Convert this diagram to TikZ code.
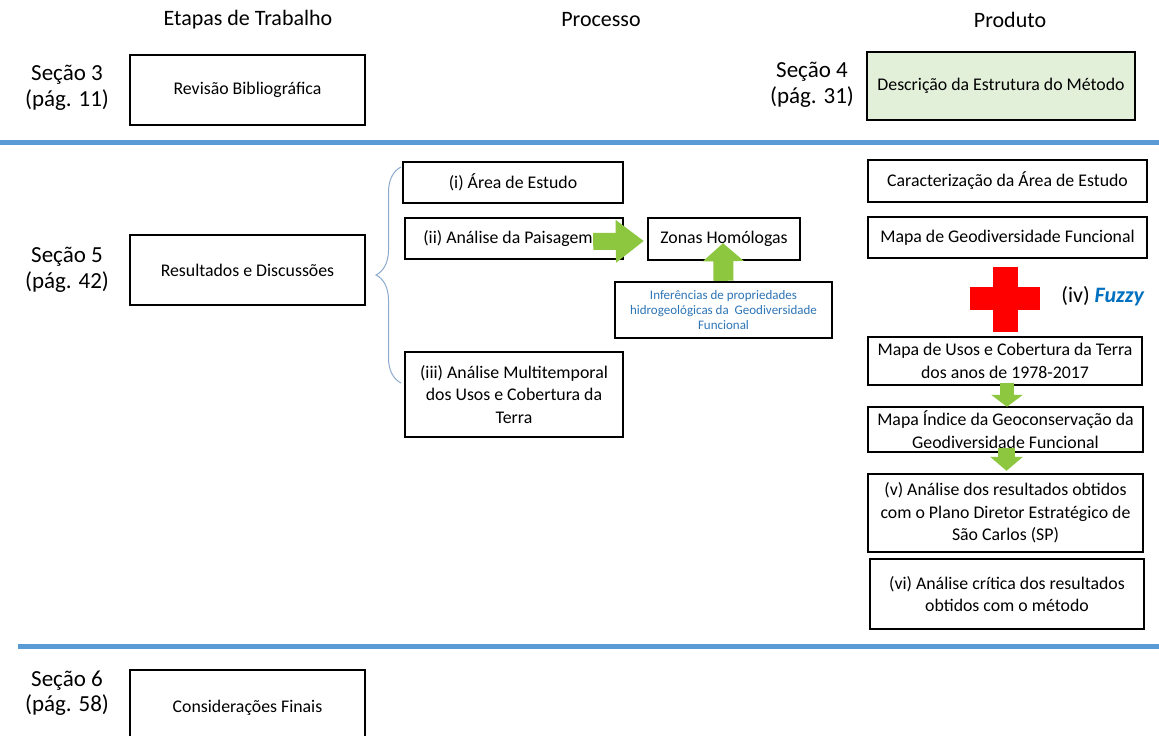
\documentclass[tikz,border=0pt]{standalone}
\usepackage{fontspec}
\setmainfont{Carlito}
\usetikzlibrary{arrows.meta,calc,decorations.pathreplacing}
\definecolor{sepblue}{RGB}{91,155,213}
\definecolor{arrgreen}{RGB}{141,198,63}
\definecolor{boxgreen}{RGB}{226,239,217}
\definecolor{txtblue}{RGB}{46,117,182}
\definecolor{fuzzyblue}{RGB}{0,112,192}
\definecolor{bracecol}{RGB}{140,170,205}
\tikzset{
  box/.style={draw=black, line width=2.4pt, align=center, inner sep=0pt,
    font=\fontsize{17.8}{22.5}\selectfont},
  sec/.style={align=center, inner sep=0pt, font=\fontsize{23}{25.5}\selectfont},
  head/.style={inner sep=0pt, font=\fontsize{22}{24}\selectfont},
  sepline/.style={sepblue, line width=5pt},
  garrow/.style={arrgreen, line width=#1},
}
\begin{document}
\begin{tikzpicture}[x=1pt,y=-1pt]
\useasboundingbox (0,0) rectangle (1159,736);
\clip (0,0) rectangle (1159,736);
\fill[white] (0,0) rectangle (1159,736);
% headers
\node[head] (h1) at (248,20) {Etapas de Trabalho};
\node[head] (h2) at (601,20) {Processo};
\node[head] (h3) at (1010,20) {Produto};
% section labels
\node[sec] (s3) at (67,88) {Seção 3\\(pág. 11)};
\node[sec] (s4) at (812,85) {Seção 4\\(pág. 31)};
\node[sec] (s5) at (67,270) {Seção 5\\(pág. 42)};
\node[sec] (s6) at (67,693) {Seção 6\\(pág. 58)};
% separator lines
\draw[sepline] (0,142) -- (1159,142);
\draw[sepline] (18,646) -- (1159,646);
% boxes
\node[box, minimum width=235pt, minimum height=70pt] (rev) at (247.5,90) {Revisão Bibliográfica};
\node[box, fill=boxgreen, minimum width=268pt, minimum height=68pt] (desc) at (1001,86) {Descrição da Estrutura do Método};
\node[box, minimum width=235pt, minimum height=70pt] (res) at (247.5,270) {Resultados e Discussões};
\node[box, minimum width=220pt, minimum height=41pt] (area) at (513,182.5) {(i) Área de Estudo};
\node[box, minimum width=218pt, minimum height=41pt] (pais) at (514,238.5) {(ii) Análise da Paisagem\hspace{12pt}};
\node[box, minimum width=152pt, minimum height=42pt] (zonas) at (724,239) {Zonas Homólogas};
\node[box, minimum width=217pt, minimum height=56pt, text=txtblue, font=\fontsize{13}{15}\selectfont] (inf) at (723.5,310) {Inferências de propriedades\\hidrogeológicas da~ Geodiversidade\\Funcional};
\node[box, minimum width=218pt, minimum height=85pt] (multi) at (514,394.5) {(iii) Análise Multitemporal\\dos Usos e Cobertura da\\Terra};
\node[box, minimum width=279pt, minimum height=42pt] (carac) at (1007.5,181) {Caracterização da Área de Estudo};
\node[box, minimum width=279pt, minimum height=41pt] (geo) at (1007.5,237.5) {Mapa de Geodiversidade Funcional};
\node[box, minimum width=274pt, minimum height=48pt] (usos) at (1005,361) {Mapa de Usos e Cobertura da Terra\\dos anos de 1978-2017};
\node[box, minimum width=275pt, minimum height=45pt] (indice) at (1005.5,429.5) {Mapa Índice da Geoconservação da\\Geodiversidade Funcional};
\node[box, minimum width=275pt, minimum height=78pt] (anv) at (1005.5,513) {(v) Análise dos resultados obtidos\\com o Plano Diretor Estratégico de\\São Carlos (SP)};
\node[box, minimum width=274pt, minimum height=70pt] (anvi) at (1007,594) {(vi) Análise crítica dos resultados\\obtidos com o método};
\node[box, minimum width=235pt, minimum height=76pt] (cons) at (247.5,708) {Considerações Finais};
% brace
\draw[bracecol, line width=1pt, decorate, decoration={brace, amplitude=25pt}] (401,383) -- (401,167);
% green arrows
\draw[garrow=17pt, -{Triangle[length=28pt,width=41pt]}] ($(pais.east)+(-31,3)$) -- ($(zonas.west)+(-3,2)$);
\draw[garrow=20pt, -{Triangle[length=18pt,width=40pt]}] (inf.north) -- ($(zonas.south)+(-1,-18)$);
\draw[garrow=14pt, -{Triangle[length=12pt,width=31pt]}] ($(usos.south)+(2,-3)$) -- ($(indice.north)+(1.5,1)$);
\draw[garrow=17pt, -{Triangle[length=14pt,width=32pt]}] ($(indice.south)+(1,-5)$) -- ($(anv.north)+(1,-2)$);
% red cross
\fill[red] (993,267) rectangle (1018,332);
\fill[red] (970,287) rectangle (1040,310);
\node[inner sep=0pt, font=\fontsize{22}{24}\selectfont] (fuzzy) at (1103,296) {(iv) \textcolor{fuzzyblue}{\textbf{\textit{Fuzzy}}}};
\end{tikzpicture}
\end{document}
